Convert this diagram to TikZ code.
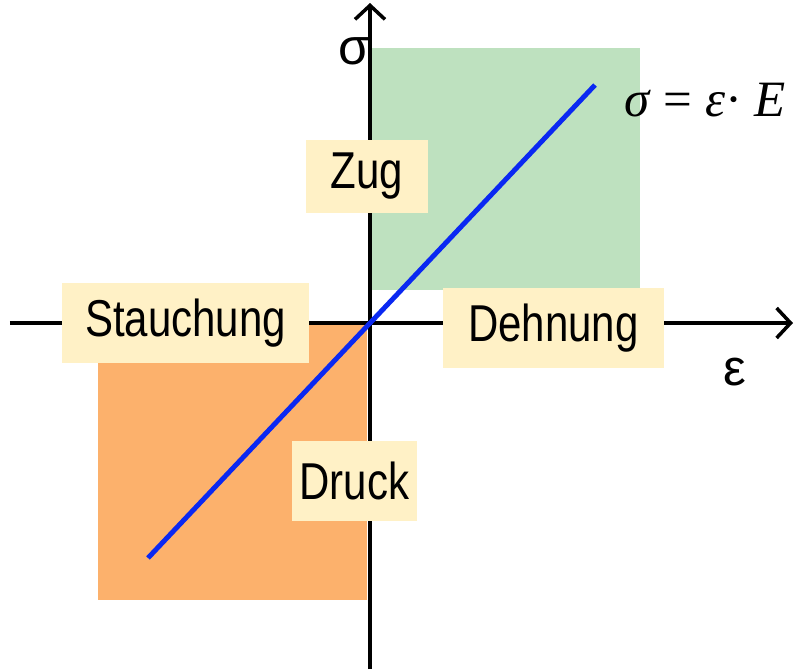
\documentclass[tikz,border=0pt]{standalone}
\usepackage{fontspec}
\setmainfont{Liberation Sans}
\newfontfamily\labelfont[FakeStretch=0.81]{Liberation Sans}
\newfontfamily\formulafont{Liberation Serif}
\usetikzlibrary{arrows.meta,positioning}
\definecolor{boxyellow}{HTML}{FFF1C6}
\definecolor{zuggreen}{HTML}{BEE1BF}
\definecolor{druckorange}{HTML}{FCB16C}
\definecolor{lineblue}{HTML}{0A28F2}

\begin{document}
\begin{tikzpicture}[x=1cm,y=1cm]
\tikzset{
  labelbox/.style={fill=boxyellow,inner sep=0pt,minimum height=1.6cm,font=\labelfont\fontsize{29.5}{30}\selectfont},
  axis/.style={-{Straight Barb[length=2.8mm,width=6mm,line width=2pt]},line width=2.2pt},
  region/.style={draw=none}
}
\useasboundingbox (-7.40,-6.92) rectangle (8.50,6.46);
% quadrants
\fill[region,zuggreen] (0.04,0.66) rectangle (5.40,5.50);
\fill[region,druckorange] (-5.44,-5.54) rectangle (-0.06,0);
% axes
\coordinate (x_start) at (-7.20,0);
\coordinate (x_end) at (8.46,0);
\coordinate (y_start) at (0,-6.92);
\coordinate (y_end) at (0,6.40);
\draw[axis] (x_start) -- (x_end);
\draw[axis] (y_start) -- (y_end);
\node (n_sigma) at (-0.32,5.44) {\fontsize{29}{30}\selectfont σ};
\node (n_eps) at (7.30,-0.98) {\fontsize{29}{30}\selectfont ε};
% Hooke line
\coordinate (l_low) at (-4.44,-4.70);
\coordinate (l_high) at (4.50,4.76);
\draw[lineblue,line width=2.8pt] (l_low) -- (l_high);
\node (n_law) at (6.70,4.46) {\formulafont\fontsize{29}{30}\selectfont\textit{σ} = \textit{ε}· \textit{E}};
% labels
\node[labelbox,minimum width=2.44cm,minimum height=1.46cm] (n_zug) at (-0.06,2.94) {Zug};
\node[labelbox,minimum width=4.94cm] (n_stauchung) at (-3.69,0) {Stauchung};
\node[labelbox,minimum width=4.42cm] (n_dehnung) at (3.67,-0.10) {Dehnung};
\node[labelbox,minimum width=2.50cm] (n_druck) at (-0.31,-3.16) {Druck};
\end{tikzpicture}
\end{document}
